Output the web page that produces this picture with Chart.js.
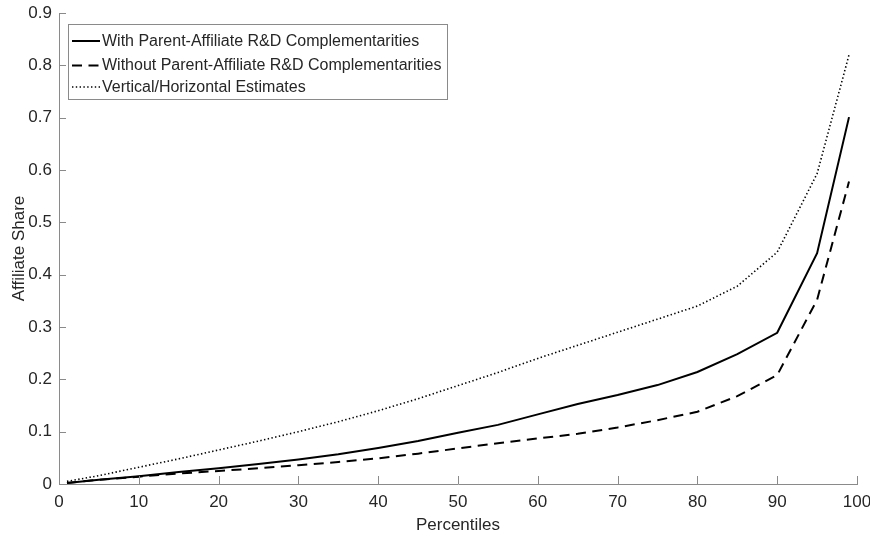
<!DOCTYPE html>
<html>
<head>
<meta charset="utf-8">
<script src="https://cdn.jsdelivr.net/npm/chart.js@4/dist/chart.umd.min.js"></script>
<style>
  html, body { margin: 0; padding: 0; background: #ffffff; }
  #wrap { width: 870px; height: 540px; }
</style>
</head>
<body>
<div id="wrap"><canvas id="chart" width="870" height="540"></canvas></div>
<script>
// Percentile grid of the simulated firm distribution
const percentiles = [1, 5, 10, 15, 20, 25, 30, 35, 40, 45, 50, 55, 60, 65, 70, 75, 80, 85, 90, 95, 99];

// Affiliate share of R&D at each percentile
const withComplementarities = [0.002, 0.008, 0.015, 0.023, 0.030, 0.038, 0.047, 0.057, 0.069, 0.082, 0.098,
  0.113, 0.133, 0.153, 0.170, 0.189, 0.214, 0.248, 0.289, 0.441, 0.701];
const withoutComplementarities = [0.002, 0.008, 0.014, 0.020, 0.025, 0.030, 0.036, 0.042, 0.049, 0.058, 0.068,
  0.078, 0.087, 0.096, 0.108, 0.122, 0.138, 0.168, 0.208, 0.352, 0.578];
const verticalHorizontal = [0.005, 0.016, 0.032, 0.048, 0.065, 0.082, 0.100, 0.119, 0.140, 0.163, 0.188,
  0.213, 0.240, 0.265, 0.290, 0.315, 0.340, 0.378, 0.443, 0.593, 0.820];

const seriesLabels = [
  'With Parent-Affiliate R&D Complementarities',
  'Without Parent-Affiliate R&D Complementarities',
  'Vertical/Horizontal Estimates'
];

const xTickValues = [0, 10, 20, 30, 40, 50, 60, 70, 80, 90, 100];
const xTickLabels = ['0', '10', '20', '30', '40', '50', '60', '70', '80', '90', '100'];
const yTickValues = [0, 0.1, 0.2, 0.3, 0.4, 0.5, 0.6, 0.7, 0.8, 0.9];
const yTickLabels = ['0', '0.1', '0.2', '0.3', '0.4', '0.5', '0.6', '0.7', '0.8', '0.9'];

const FONT = '"Liberation Sans", Arial, Helvetica, sans-serif';
const TEXT = '#262626';
const AXIS = '#8a8a8a';

const toPoints = ys => percentiles.map((p, i) => ({ x: p, y: ys[i] }));

// Inward tick marks along the two axis lines
const inwardTicks = {
  id: 'inwardTicks',
  afterDraw(chart) {
    const { ctx, chartArea: a, scales: { x, y } } = chart;
    ctx.save();
    ctx.strokeStyle = AXIS;
    ctx.lineWidth = 1;
    ctx.beginPath();
    y.ticks.forEach(t => {
      const py = Math.round(y.getPixelForValue(t.value)) + 0.5;
      ctx.moveTo(a.left, py);
      ctx.lineTo(a.left + 7, py);
    });
    x.ticks.forEach(t => {
      const px = Math.round(x.getPixelForValue(t.value)) + 0.5;
      ctx.moveTo(px, a.bottom);
      ctx.lineTo(px, a.bottom - 8);
    });
    ctx.stroke();
    ctx.restore();
  }
};

// Boxed legend in the upper-left corner of the plot
const boxLegend = {
  id: 'boxLegend',
  afterDraw(chart) {
    const { ctx } = chart;
    const box = { left: 68.5, top: 24.5, right: 447.5, bottom: 99.5 };
    const rows = [41, 65.5, 87];
    ctx.save();
    ctx.fillStyle = '#ffffff';
    ctx.fillRect(box.left, box.top, box.right - box.left, box.bottom - box.top);
    ctx.strokeStyle = AXIS;
    ctx.lineWidth = 1;
    ctx.strokeRect(box.left, box.top, box.right - box.left, box.bottom - box.top);
    chart.data.datasets.forEach((ds, i) => {
      const yy = rows[i];
      ctx.beginPath();
      ctx.strokeStyle = ds.borderColor;
      ctx.lineWidth = ds.borderWidth;
      ctx.setLineDash(ds.borderDash || []);
      ctx.moveTo(72, yy);
      ctx.lineTo(100, yy);
      ctx.stroke();
      ctx.setLineDash([]);
      ctx.fillStyle = TEXT;
      ctx.font = '16px ' + FONT;
      ctx.textBaseline = 'middle';
      ctx.textAlign = 'left';
      ctx.fillText(ds.label, 102, yy + 0.5);
    });
    ctx.restore();
  }
};

new Chart(document.getElementById('chart'), {
  type: 'line',
  data: {
    datasets: [
      {
        label: seriesLabels[0],
        data: toPoints(withComplementarities),
        borderColor: '#000000',
        borderWidth: 2,
        borderDash: [],
        pointRadius: 0,
        tension: 0,
        fill: false
      },
      {
        label: seriesLabels[1],
        data: toPoints(withoutComplementarities),
        borderColor: '#000000',
        borderWidth: 2,
        borderDash: [10, 6.5],
        pointRadius: 0,
        tension: 0,
        fill: false
      },
      {
        label: seriesLabels[2],
        data: toPoints(verticalHorizontal),
        borderColor: '#000000',
        borderWidth: 1.6,
        borderDash: [1.4, 2.4],
        pointRadius: 0,
        tension: 0,
        fill: false
      }
    ]
  },
  options: {
    responsive: false,
    animation: false,
    layout: { padding: { top: 13, right: 13, left: 0, bottom: 0 } },
    plugins: {
      legend: { display: false },
      tooltip: { enabled: false }
    },
    scales: {
      x: {
        type: 'linear',
        min: 0,
        max: 100,
        afterBuildTicks: s => { s.ticks = xTickValues.map(v => ({ value: v })); },
        afterFit: s => { s.height = 56; s.paddingRight = 0; s.paddingLeft = 0; },
        grid: { display: false, drawTicks: false },
        border: { display: true, color: AXIS, width: 1 },
        ticks: {
          padding: 8,
          color: TEXT,
          font: { family: FONT, size: 17 },
          maxRotation: 0,
          autoSkip: false,
          callback: (v, i) => xTickLabels[i]
        },
        title: {
          display: true,
          text: 'Percentiles',
          color: TEXT,
          font: { family: FONT, size: 17 },
          padding: { top: 0, bottom: 4 }
        }
      },
      y: {
        type: 'linear',
        min: 0,
        max: 0.9,
        afterBuildTicks: s => { s.ticks = yTickValues.map(v => ({ value: v })); },
        afterFit: s => { s.width = 59; s.paddingTop = 0; s.paddingBottom = 0; },
        grid: { display: false, drawTicks: false },
        border: { display: true, color: AXIS, width: 1 },
        ticks: {
          padding: 7,
          color: TEXT,
          font: { family: FONT, size: 17 },
          autoSkip: false,
          callback: (v, i) => yTickLabels[i]
        },
        title: {
          display: true,
          text: 'Affiliate Share',
          color: TEXT,
          font: { family: FONT, size: 17 },
          padding: { top: 9, bottom: 0 }
        }
      }
    }
  },
  plugins: [inwardTicks, boxLegend]
});
</script>
</body>
</html>
